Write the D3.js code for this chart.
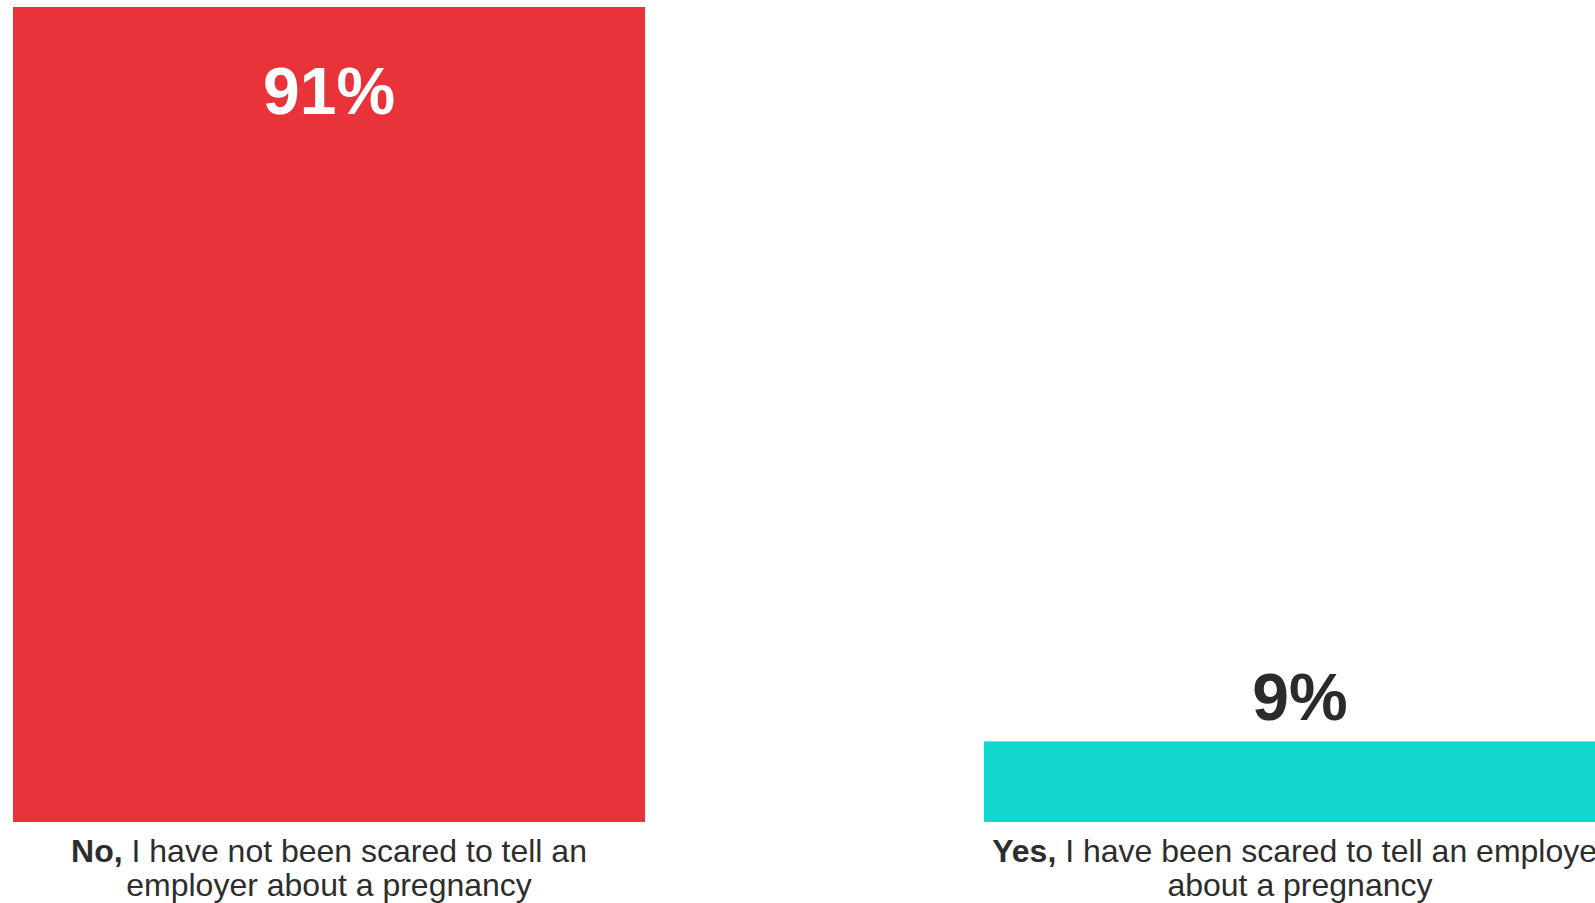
<!DOCTYPE html>
<html>
<head>
<meta charset="utf-8">
<script src="https://cdn.jsdelivr.net/npm/d3@7"></script>
<style>
html,body{margin:0;padding:0;background:#fff;overflow:hidden;}
svg{display:block;}
</style>
</head>
<body>
<svg id="chart" width="1595" height="903"></svg>
<script>
const categories = ["No", "Yes"];
const values = [91, 9];
const valueLabels = ["91%", "9%"];
const labelBold = ["No,", "Yes,"];
const labelLine1 = [" I have not been scared to tell an", " I have been scared to tell an employer"];
const labelLine2 = ["employer about a pregnancy", "about a pregnancy"];
const colors = ["#E8333A", "#10D6CC"];

const svg = d3.select("#chart");
const font = "'Liberation Sans', Arial, sans-serif";

const x = d3.scaleBand().domain(categories).range([13, 1616]).paddingInner(0.349).paddingOuter(0);
const y = d3.scaleLinear().domain([0, 91]).range([822, 7]);

const data = categories.map((c, i) => ({c, v: values[i], i}));

svg.selectAll("rect.bar").data(data).enter().append("rect")
  .attr("class", "bar")
  .attr("x", d => x(d.c))
  .attr("width", x.bandwidth())
  .attr("y", d => y(d.v))
  .attr("height", d => y(0) - y(d.v))
  .attr("fill", d => colors[d.i]);

// value labels
svg.selectAll("text.val").data(data).enter().append("text")
  .attr("class", "val")
  .attr("x", d => x(d.c) + x.bandwidth() / 2)
  .attr("y", d => d.v > 50 ? y(d.v) + 107 : y(d.v) - 21)
  .attr("text-anchor", "middle")
  .attr("font-family", font)
  .attr("font-weight", "bold")
  .attr("font-size", 66)
  .attr("fill", d => d.v > 50 ? "#ffffff" : "#2b2b2b")
  .text(d => valueLabels[d.i]);

// category labels
const lab = svg.selectAll("text.cat").data(data).enter().append("text")
  .attr("class", "cat")
  .attr("text-anchor", "middle")
  .attr("font-family", font)
  .attr("font-size", 32)
  .attr("fill", "#2d2d2d");
lab.append("tspan")
  .attr("x", d => x(d.c) + x.bandwidth() / 2)
  .attr("y", y(0) + 40)
  .attr("font-weight", "bold")
  .text(d => labelBold[d.i]);
lab.append("tspan")
  .text(d => labelLine1[d.i]);
lab.append("tspan")
  .attr("x", d => x(d.c) + x.bandwidth() / 2)
  .attr("y", y(0) + 74)
  .text(d => labelLine2[d.i]);
</script>
</body>
</html>
